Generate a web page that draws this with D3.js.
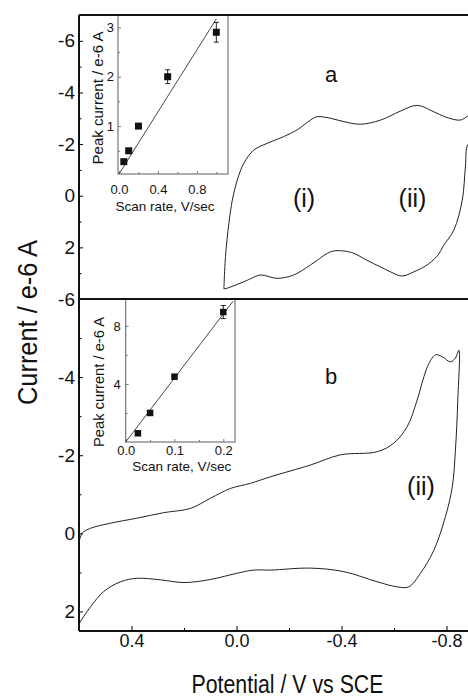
<!DOCTYPE html>
<html>
<head>
<meta charset="utf-8">
<script src="https://cdn.jsdelivr.net/npm/d3@7"></script>
<style>
  body { margin: 0; background: #fff; }
  text { font-family: "Liberation Sans", Arial, sans-serif; fill: #111; }
</style>
</head>
<body>
<div id="chart"></div>
<script>

// cyclic voltammogram (a): upper branch left -> right, then return branch right -> left
var cvA_potential = [0.048, 0.042, 0.029, 0.016, -0.003, -0.028, -0.066, -0.117, -0.18, -0.231, -0.282, -0.307, -0.358, -0.409, -0.472, -0.549, -0.625, -0.688, -0.752, -0.796, -0.853, -0.881, -0.91,
                     -0.91, -0.881, -0.872, -0.86, -0.828, -0.79, -0.765, -0.72, -0.675, -0.631, -0.587, -0.549, -0.495, -0.447, -0.409, -0.37, -0.346, -0.282, -0.218, -0.155, -0.091, -0.053, -0.028, 0.035, 0.048];
var cvA_current = [3.61, 2.36, 1.07, 0.17, -0.61, -1.26, -1.77, -2.03, -2.29, -2.55, -2.93, -3.06, -3.0, -2.87, -2.77, -2.93, -3.28, -3.5, -3.25, -3.05, -2.93, -3.09, -3.3,
                   -2.2, -1.97, -1.12, 0.17, 1.33, 1.91, 2.33, 2.72, 2.95, 3.11, 2.95, 2.76, 2.49, 2.23, 2.14, 2.14, 2.23, 2.68, 3.07, 3.2, 3.07, 3.22, 3.33, 3.58, 3.61];

// cyclic voltammogram (b)
var cvB_potential = [0.598, 0.587, 0.556, 0.48, 0.378, 0.277, 0.175, 0.099, 0.023, -0.053, -0.13, -0.282, -0.396, -0.536, -0.599, -0.65, -0.688, -0.714, -0.733, -0.758, -0.785, -0.815, -0.834, -0.847,
                     -0.843, -0.834, -0.822, -0.796, -0.752, -0.701, -0.656, -0.612, -0.536, -0.409, -0.282, -0.13, -0.066, -0.003, 0.099, 0.2, 0.29, 0.378, 0.442, 0.506, 0.556, 0.598];
var cvB_current = [0.17, -0.01, -0.13, -0.26, -0.39, -0.53, -0.64, -0.9, -1.15, -1.28, -1.45, -1.75, -2.01, -2.09, -2.31, -2.73, -3.41, -4.01, -4.35, -4.57, -4.52, -4.39, -4.49, -4.69,
                   -3.41, -2.13, -1.19, -0.43, 0.43, 1.02, 1.37, 1.37, 1.24, 0.98, 0.89, 0.94, 0.94, 1.02, 1.18, 1.26, 1.19, 1.15, 1.24, 1.49, 1.88, 2.29];

// insets: peak current vs scan rate
var insetA_rate = [0.05, 0.1, 0.2, 0.5, 1.0];
var insetA_peak = [0.28, 0.5, 1.0, 2.0, 2.9];
var insetA_err  = [0, 0, 0, 0.14, 0.2];
var insetA_fitRate = [0, 1.0];
var insetA_fitPeak = [0.03, 3.17];

var insetB_rate = [0.025, 0.05, 0.1, 0.2];
var insetB_peak = [0.6, 2.0, 4.5, 8.95];
var insetB_err  = [0, 0, 0, 0.45];
var insetB_fitRate = [0, 0.22];
var insetB_fitPeak = [0, 9.7];

// ticks
var potentialTicks = [0.4, 0.0, -0.4, -0.8];
var potentialMinor = [0.2, -0.2, -0.6];
var currentTicksA = [-6, -4, -2, 0, 2];
var currentMinorA = [-5, -3, -1, 1, 3];
var currentTicksB = [-6, -4, -2, 0, 2];
var currentMinorB = [-5, -3, -1, 1];
var insetA_xTicks = [0, 0.4, 0.8];
var insetA_xMinor = [0.2, 0.6, 1.0];
var insetA_yTicks = [1, 2, 3];
var insetA_yMinor = [0.5, 1.5, 2.5];
var insetB_xTicks = [0, 0.1, 0.2];
var insetB_xMinor = [0.05, 0.15];
var insetB_yTicks = [4, 8];
var insetB_yMinor = [2, 6];


var svg = d3.select("#chart").append("svg")
  .attr("width", 468)
  .attr("height", 700);

// frame positions (note: "top" is reserved on window, so avoid it)
var plotL = 79, plotT = 15, plotMid = 299, plotB = 631;

var x = d3.scaleLinear().domain([0.6, -0.9]).range([plotL, 472.75]);
var yA = d3.scaleLinear().domain([-7, 4]).range([plotT, plotMid]);
var yB = d3.scaleLinear().domain([-6, 2.5]).range([plotMid, plotB]);

// clip each panel
var defs = svg.append("defs");
defs.append("clipPath").attr("id", "clipA")
  .append("rect").attr("x", plotL).attr("y", plotT).attr("width", 400).attr("height", plotMid - plotT);
defs.append("clipPath").attr("id", "clipB")
  .append("rect").attr("x", plotL).attr("y", plotMid).attr("width", 400).attr("height", plotB - plotMid);

function cvLine(yScale) {
  return d3.line()
    .x(d => x(d[0]))
    .y(d => yScale(d[1]))
    .curve(d3.curveCatmullRom.alpha(0.5));
}

svg.append("path")
  .datum(d3.zip(cvA_potential, cvA_current))
  .attr("clip-path", "url(#clipA)")
  .attr("d", cvLine(yA))
  .style("fill", "none")
  .style("stroke", "#222")
  .style("stroke-width", 1);

svg.append("path")
  .datum(d3.zip(cvB_potential, cvB_current))
  .attr("clip-path", "url(#clipB)")
  .attr("d", cvLine(yB))
  .style("fill", "none")
  .style("stroke", "#222")
  .style("stroke-width", 1);

// axis helper: draws ticks only, frame lines drawn separately
function styleAxis(g, color, size) {
  g.select(".domain").remove();
  g.selectAll("line").style("stroke", color);
  g.selectAll("text")
    .style("font-size", size + "px")
    .style("font-family", '"Liberation Sans", Arial, sans-serif')
    .style("fill", "#111");
}

// main y axes
svg.append("g").attr("transform", "translate(" + plotL + ",0)")
  .call(d3.axisLeft(yA).tickValues(currentTicksA).tickSize(-4).tickPadding(4).tickFormat(d => String(d)))
  .call(g => styleAxis(g, "#000", 19));
svg.append("g").attr("transform", "translate(" + plotL + ",0)")
  .call(d3.axisLeft(yA).tickValues(currentMinorA).tickSize(-2.5).tickFormat(""))
  .call(g => styleAxis(g, "#000", 19));
svg.append("g").attr("transform", "translate(" + plotL + ",0)")
  .call(d3.axisLeft(yB).tickValues(currentTicksB).tickSize(-4).tickPadding(4).tickFormat(d => String(d)))
  .call(g => styleAxis(g, "#000", 19));
svg.append("g").attr("transform", "translate(" + plotL + ",0)")
  .call(d3.axisLeft(yB).tickValues(currentMinorB).tickSize(-2.5).tickFormat(""))
  .call(g => styleAxis(g, "#000", 19));

// main x axis
svg.append("g").attr("transform", "translate(0," + plotB + ")")
  .call(d3.axisBottom(x).tickValues(potentialTicks).tickSize(-5).tickPadding(3.5).tickFormat(d => d.toFixed(1)))
  .call(g => styleAxis(g, "#000", 18));
svg.append("g").attr("transform", "translate(0," + plotB + ")")
  .call(d3.axisBottom(x).tickValues(potentialMinor).tickSize(-3).tickFormat(""))
  .call(g => styleAxis(g, "#000", 18));


// inset plot of peak current vs scan rate
function drawInset(o) {
  var ix = d3.scaleLinear().domain(o.xDomain).range([o.x0, o.x1]);
  var iy = d3.scaleLinear().domain(o.yDomain).range([o.y1, o.y0]);
  var g = svg.append("g");

  g.append("rect")
    .attr("x", o.x0).attr("y", o.y0)
    .attr("width", o.x1 - o.x0).attr("height", o.y1 - o.y0)
    .style("fill", "#fff")
    .style("stroke", "#777")
    .style("stroke-width", 1.2);

  g.append("g").attr("transform", "translate(" + o.x0 + ",0)")
    .call(d3.axisLeft(iy).tickValues(o.yTicks).tickSize(-3).tickPadding(o.yPad).tickFormat(d => String(d)))
    .call(a => styleAxis(a, "#777", 13));
  g.append("g").attr("transform", "translate(" + o.x0 + ",0)")
    .call(d3.axisLeft(iy).tickValues(o.yMinor).tickSize(-2).tickFormat(""))
    .call(a => styleAxis(a, "#777", 13));
  g.append("g").attr("transform", "translate(0," + o.y1 + ")")
    .call(d3.axisBottom(ix).tickValues(o.xTicks).tickSize(-3).tickPadding(o.xPad).tickFormat(d => d.toFixed(1)))
    .call(a => styleAxis(a, "#777", 13));
  g.append("g").attr("transform", "translate(0," + o.y1 + ")")
    .call(d3.axisBottom(ix).tickValues(o.xMinor).tickSize(-2).tickFormat(""))
    .call(a => styleAxis(a, "#777", 13));

  // linear fit
  g.append("line")
    .attr("x1", ix(o.fitRate[0])).attr("y1", iy(o.fitPeak[0]))
    .attr("x2", ix(o.fitRate[1])).attr("y2", iy(o.fitPeak[1]))
    .style("stroke", "#333")
    .style("stroke-width", 0.9);

  var pts = d3.zip(o.rate, o.peak, o.err);

  // error bars
  var eb = g.selectAll(".eb").data(pts.filter(d => d[2] > 0)).enter().append("g");
  eb.append("line")
    .attr("x1", d => ix(d[0])).attr("x2", d => ix(d[0]))
    .attr("y1", d => iy(d[1] - d[2])).attr("y2", d => iy(d[1] + d[2]))
    .style("stroke", "#222");
  [-1, 1].forEach(function(s) {
    eb.append("line")
      .attr("x1", d => ix(d[0]) - 2.5).attr("x2", d => ix(d[0]) + 2.5)
      .attr("y1", d => iy(d[1] + s * d[2])).attr("y2", d => iy(d[1] + s * d[2]))
      .style("stroke", "#222");
  });

  g.selectAll(".pt").data(pts).enter().append("rect")
    .attr("x", d => ix(d[0]) - o.size / 2)
    .attr("y", d => iy(d[1]) - o.size / 2)
    .attr("width", o.size).attr("height", o.size)
    .style("fill", "#111");

  g.append("text")
    .attr("transform", "translate(" + o.yLabelX + "," + o.yLabelY + ") rotate(-90)")
    .attr("text-anchor", "middle")
    .attr("textLength", o.yLabelLen)
    .attr("lengthAdjust", "spacingAndGlyphs")
    .style("font-size", "14.5px")
    .text("Peak current / e-6 A");

  g.append("text")
    .attr("x", o.xLabelX).attr("y", o.xLabelY)
    .attr("text-anchor", "middle")
    .style("font-size", "13.5px")
    .text("Scan rate, V/sec");
}

drawInset({
  x0: 118, x1: 228, y0: plotT, y1: 174,
  xDomain: [-0.01, 1.12], yDomain: [0.03, 3.25],
  xTicks: insetA_xTicks, xMinor: insetA_xMinor, yTicks: insetA_yTicks, yMinor: insetA_yMinor,
  xPad: 11, yPad: 4,
  rate: insetA_rate, peak: insetA_peak, err: insetA_err,
  fitRate: insetA_fitRate, fitPeak: insetA_fitPeak, size: 7,
  yLabelX: 103, yLabelY: 98, yLabelLen: 133,
  xLabelX: 165, xLabelY: 211
});

drawInset({
  x0: 125.7, x1: 235, y0: plotMid, y1: 442,
  xDomain: [0, 0.224], yDomain: [0, 9.85],
  xTicks: insetB_xTicks, xMinor: insetB_xMinor, yTicks: insetB_yTicks, yMinor: insetB_yMinor,
  xPad: 3.5, yPad: 5,
  rate: insetB_rate, peak: insetB_peak, err: insetB_err,
  fitRate: insetB_fitRate, fitPeak: insetB_fitPeak, size: 6.5,
  yLabelX: 104, yLabelY: 382, yLabelLen: 130,
  xLabelX: 181.7, xLabelY: 471
});

// frame lines
var frame = [
  [plotL, plotT, 468, plotT],
  [plotL, plotMid, 468, plotMid],
  [plotL, plotB, 468, plotB],
  [plotL, plotT, plotL, plotB]
];
svg.selectAll(".frame").data(frame).enter().append("line")
  .attr("x1", d => d[0]).attr("y1", d => d[1])
  .attr("x2", d => d[2]).attr("y2", d => d[3])
  .style("stroke", "#111")
  .style("stroke-width", 2);

// annotations
var notes = [
  ["a", 331, 82, 22],
  ["b", 331, 384, 22],
  ["(i)", 304, 206.5, 25],
  ["(ii)", 412.5, 206.5, 25],
  ["(ii)", 421, 495, 25]
];
svg.selectAll(".note").data(notes).enter().append("text")
  .attr("x", d => d[1]).attr("y", d => d[2])
  .attr("text-anchor", "middle")
  .style("font-size", d => d[3] + "px")
  .text(d => d[0]);

// axis titles
svg.append("text")
  .attr("x", 287.5).attr("y", 693)
  .attr("text-anchor", "middle")
  .attr("textLength", 192)
  .attr("lengthAdjust", "spacingAndGlyphs")
  .style("font-size", "25px")
  .text("Potential / V vs SCE");

svg.append("text")
  .attr("transform", "translate(37,322.5) rotate(-90)")
  .attr("text-anchor", "middle")
  .attr("textLength", 165)
  .attr("lengthAdjust", "spacingAndGlyphs")
  .style("font-size", "28px")
  .text("Current / e-6 A");

</script>
</body>
</html>
